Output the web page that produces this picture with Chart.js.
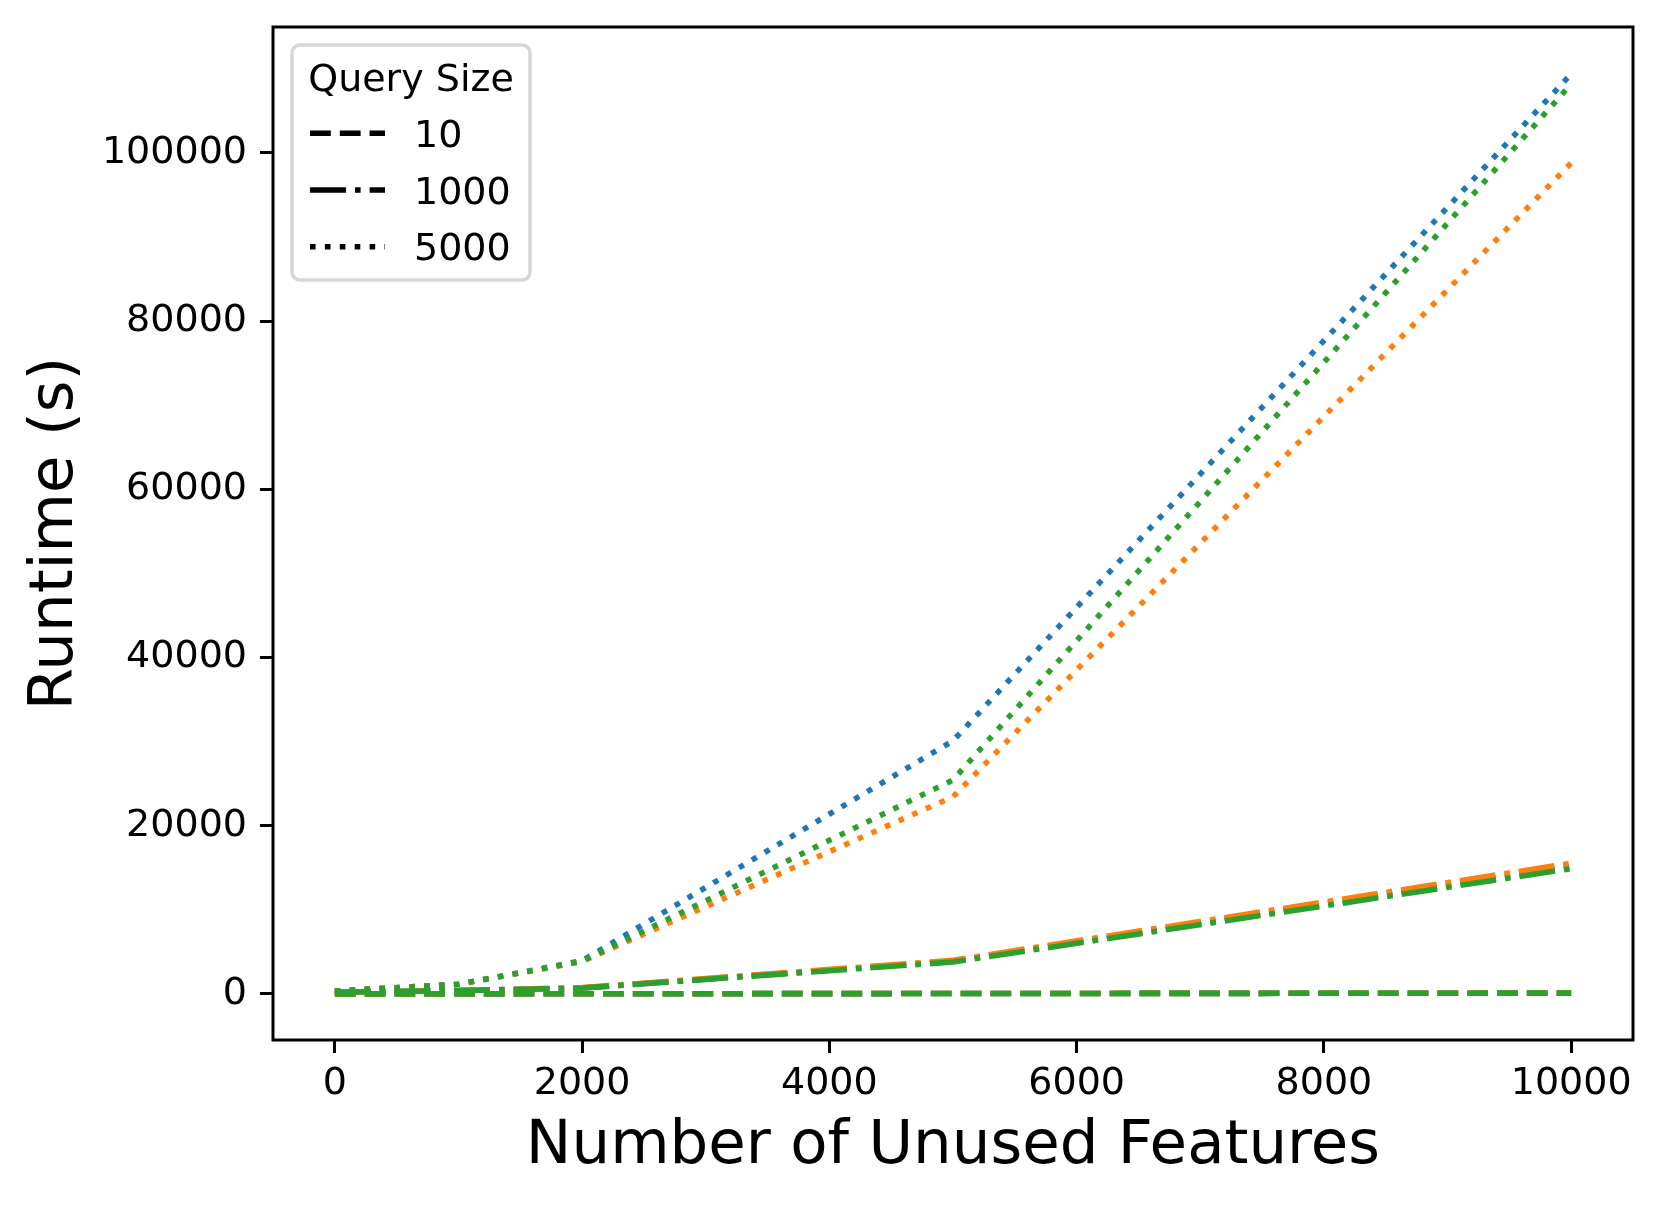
<!DOCTYPE html>
<html>
<head>
<meta charset="utf-8">
<script src="https://cdn.jsdelivr.net/npm/chart.js@4.4.0/dist/chart.umd.min.js"></script>
<style>
  html, body { margin: 0; padding: 0; background: #fff; }
  #wrap { width: 1661px; height: 1206px; }
</style>
</head>
<body>
<div id="wrap"><canvas id="chart" width="1661" height="1206"></canvas></div>
<script>
// x values: number of unused features
const features = [0, 1000, 2000, 5000, 10000];
const querySizes = ['10', '1000', '5000'];
const legendTitle = 'Query Size';
const xTicks = [0, 2000, 4000, 6000, 8000, 10000];
const yTicks = [0, 20000, 40000, 60000, 80000, 100000];

// runtime (s), one array per colour and query size
const blue10 = [2, 10, 20, 50, 100];
const blue1000 = [200, 400, 700, 3900, 15200];
const blue5000 = [350, 1150, 3950, 30100, 109400];

const orange10 = [2, 10, 20, 50, 100];
const orange1000 = [200, 400, 750, 4000, 15550];
const orange5000 = [350, 1150, 3850, 23450, 98800];

const green10 = [2, 10, 20, 50, 100];
const green1000 = [200, 400, 700, 3800, 14900];
const green5000 = [350, 1150, 3900, 25450, 108200];

const seriesColors = ['#1f77b4', '#ff7f0e', '#2ca02c'];
const runtimes = [
  [blue10, blue1000, blue5000],
  [orange10, orange1000, orange5000],
  [green10, green1000, green5000],
];

const LW = 5.6;
const dashStyles = [[20.8, 9], [36, 9, 5.6, 9], [5.6, 9.3]];
const FONT = '"DejaVu Sans", sans-serif';
const TICK_SIZE = 38;
const LABEL_SIZE = 61;

Chart.defaults.font.family = FONT;
Chart.defaults.color = '#000';

const datasets = [];
seriesColors.forEach((color, c) => {
  querySizes.forEach((q, k) => {
    datasets.push({
      label: q,
      data: features.map((x, i) => ({ x: x, y: runtimes[c][k][i] })),
      borderColor: color,
      backgroundColor: color,
      borderWidth: LW,
      borderDash: dashStyles[k],
      borderCapStyle: 'butt',
      borderJoinStyle: 'round',
      pointRadius: 0,
      tension: 0,
      fill: false,
    });
  });
});
// chart.js paints the first dataset on top, matplotlib the last one
datasets.reverse();

const framePlugin = {
  id: 'frame',
  afterDatasetsDraw(chart) {
    const { ctx, chartArea: a } = chart;
    ctx.save();
    ctx.lineWidth = 3;
    ctx.strokeStyle = '#000';
    ctx.strokeRect(a.left, a.top, a.right - a.left, a.bottom - a.top);
    ctx.restore();
  }
};

const legendPlugin = {
  id: 'queryLegend',
  afterDraw(chart) {
    const { ctx, chartArea: a } = chart;
    const x0 = a.left + 19, y0 = a.top + 18, w = 238, h = 235;
    ctx.save();
    ctx.beginPath();
    ctx.roundRect(x0, y0, w, h, 8);
    ctx.fillStyle = 'rgba(255,255,255,0.8)';
    ctx.fill();
    ctx.lineWidth = 3.5;
    ctx.strokeStyle = 'rgba(204,204,204,0.8)';
    ctx.stroke();

    ctx.font = TICK_SIZE + 'px ' + FONT;
    ctx.fillStyle = '#000';
    ctx.textBaseline = 'alphabetic';
    ctx.textAlign = 'center';
    ctx.fillText(legendTitle, x0 + w / 2, y0 + 46);

    ctx.textAlign = 'left';
    querySizes.forEach((q, k) => {
      const yy = y0 + 88.3 + k * 56.7;
      ctx.setLineDash(dashStyles[k]);
      ctx.lineWidth = LW;
      ctx.lineCap = 'butt';
      ctx.strokeStyle = '#000';
      ctx.beginPath();
      ctx.moveTo(x0 + 18, yy);
      ctx.lineTo(x0 + 93, yy);
      ctx.stroke();
      ctx.setLineDash([]);
      ctx.fillText(q, x0 + 122, yy + 13.5);
    });
    ctx.restore();
  }
};

const tickGrid = {
  display: true,
  drawOnChartArea: false,
  drawTicks: true,
  tickLength: 13,
  lineWidth: 3,
  tickWidth: 3,
  color: '#000',
  tickColor: '#000',
};

// fixed axis sizes so the plot box lands where the original one is
function fixX(s) {
  s.height = 166;
  s.paddingLeft = 0;
  s.paddingRight = 0;
}
function fixY(s) {
  s.width = 273;
  s.paddingTop = 0;
  s.paddingBottom = 0;
}

new Chart(document.getElementById('chart'), {
  type: 'line',
  data: { datasets: datasets },
  options: {
    responsive: false,
    animation: false,
    devicePixelRatio: 1,
    layout: { padding: { left: 0, top: 27, right: 28, bottom: 0 } },
    plugins: { legend: { display: false }, tooltip: { enabled: false } },
    scales: {
      x: {
        type: 'linear',
        min: -500,
        max: 10500,
        afterBuildTicks: s => { s.ticks = xTicks.map(v => ({ value: v })); },
        afterFit: fixX,
        grid: tickGrid,
        border: { display: false },
        ticks: {
          color: '#000',
          font: { size: TICK_SIZE },
          padding: 8,
          maxRotation: 0,
          autoSkip: false,
          callback: v => String(v),
        },
        title: {
          display: true,
          text: 'Number of Unused Features',
          color: '#000',
          font: { size: LABEL_SIZE },
          padding: { top: 0, bottom: 22 },
        },
      },
      y: {
        type: 'linear',
        min: -5475,
        max: 114975,
        afterBuildTicks: s => { s.ticks = yTicks.map(v => ({ value: v })); },
        afterFit: fixY,
        grid: tickGrid,
        border: { display: false },
        ticks: {
          color: '#000',
          font: { size: TICK_SIZE },
          padding: 13,
          autoSkip: false,
          callback: v => String(v),
        },
        title: {
          display: true,
          text: 'Runtime (s)',
          color: '#000',
          font: { size: LABEL_SIZE },
          padding: { top: 20, bottom: 0 },
        },
      },
    },
  },
  plugins: [framePlugin, legendPlugin],
});
</script>
</body>
</html>
